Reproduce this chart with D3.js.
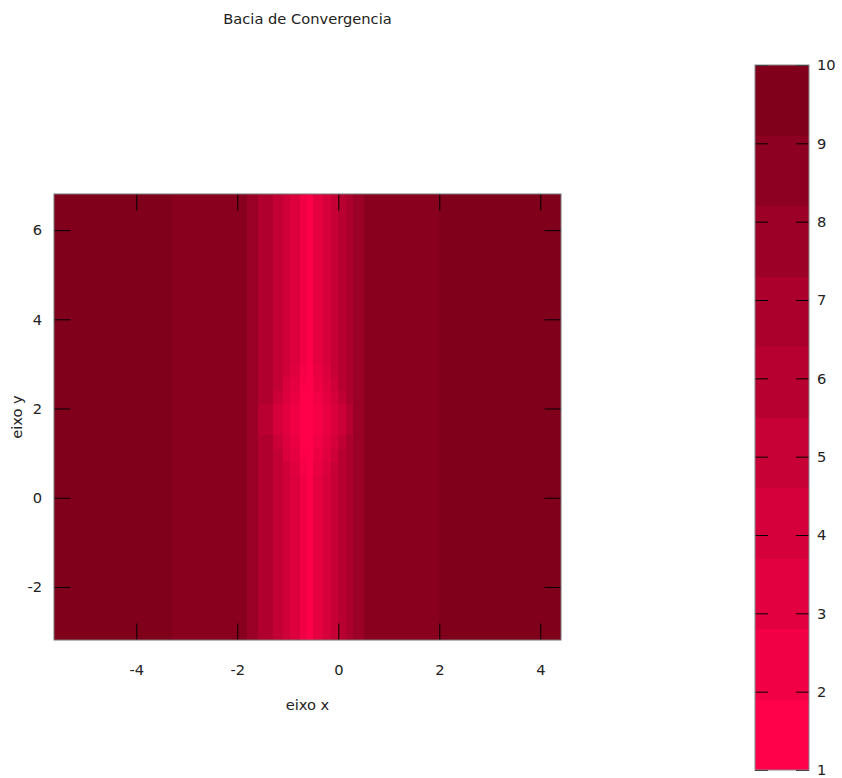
<!DOCTYPE html>
<html>
<head>
<meta charset="utf-8">
<script src="https://cdn.jsdelivr.net/npm/d3@7"></script>
<style>
  html, body { margin: 0; padding: 0; background: #fff; }
  svg { display: block; }
  text { font-family: "DejaVu Sans", sans-serif; fill: #222; }
</style>
</head>
<body>
<svg id="chart" width="842" height="778"></svg>
<script>
// ---- data ----
const title = "Bacia de Convergencia";
const xLabel = "eixo x";
const yLabel = "eixo y";
const xDomain = [-5.63, 4.41];
const yDomain = [-3.19, 6.81];
// column edges (x) and row edges (y) of the grid
const xEdges = [-5.63, -3.3, -1.8, -1.6, -1.3, -1.1, -0.95, -0.75, -0.62, -0.5, -0.3, -0.15, 0.0, 0.15, 0.3, 0.5, 2.0, 4.41];
const yEdges = [-3.19, 0.5, 0.8, 1.1, 1.4, 1.7, 2.1, 2.4, 2.7, 3.0, 6.81];
// values per row (bottom to top), one value per column
const row0 = [10, 9, 7.8, 6.5, 5.3, 4.5, 3.7, 2.3, 1.5, 3.2, 4.1, 5.1, 6.0, 6.8, 7.8, 9, 10];
const row1 = [10, 9, 7.8, 6.5, 5.3, 4.5, 3.4, 2.0, 1.3, 2.9, 3.8, 5.1, 6.0, 6.8, 7.8, 9, 10];
const row2 = [10, 9, 7.8, 6.5, 5.3, 3.9, 3.1, 1.7, 1.1, 2.6, 3.5, 4.5, 6.0, 6.8, 7.8, 9, 10];
const row3 = [10, 9, 7.8, 6.5, 4.8, 3.6, 2.8, 1.4, 1.0, 2.3, 3.2, 4.2, 5.5, 6.8, 7.8, 9, 10];
const row4 = [10, 9, 7.8, 5.9, 4.1, 3.3, 2.5, 1.1, 1.0, 2.0, 2.9, 3.9, 4.8, 6.2, 7.8, 9, 10];
const row5 = [10, 9, 7.8, 5.9, 4.1, 3.3, 2.5, 1.1, 1.0, 2.0, 2.9, 3.9, 4.8, 6.2, 7.8, 9, 10];
const row6 = [10, 9, 7.8, 6.5, 4.8, 3.6, 2.8, 1.4, 1.0, 2.3, 3.2, 4.2, 5.5, 6.8, 7.8, 9, 10];
const row7 = [10, 9, 7.8, 6.5, 5.3, 3.9, 3.1, 1.7, 1.1, 2.6, 3.5, 4.5, 6.0, 6.8, 7.8, 9, 10];
const row8 = [10, 9, 7.8, 6.5, 5.3, 4.5, 3.4, 2.0, 1.3, 2.9, 3.8, 5.1, 6.0, 6.8, 7.8, 9, 10];
const row9 = [10, 9, 7.8, 6.5, 5.3, 4.5, 3.7, 2.3, 1.5, 3.2, 4.1, 5.1, 6.0, 6.8, 7.8, 9, 10];
const zRows = [row0, row1, row2, row3, row4, row5, row6, row7, row8, row9];
const xTicks = [-4, -2, 0, 2, 4];
const yTicks = [-2, 0, 2, 4, 6];
const cbDomain = [1, 10];
const cbTicks = [1, 2, 3, 4, 5, 6, 7, 8, 9, 10];
const cbLevels = 10;

// ---- layout ----
const plot = { left: 54, right: 561, top: 194, bottom: 640 };
const cb = { left: 755, right: 809, top: 65, bottom: 770 };
const fontSize = 14.67;
const fmt = d => String(d); // plain hyphen-minus like the reference

const svg = d3.select("#chart");
const x = d3.scaleLinear().domain(xDomain).range([plot.left, plot.right]);
const y = d3.scaleLinear().domain(yDomain).range([plot.bottom, plot.top]);
const color = d3.scaleLinear()
  .domain([1.45, 9.55])
  .range(["#ff004a", "#80001c"])
  .interpolate(d3.interpolateRgb)
  .clamp(true);

// cells
const cells = [];
zRows.forEach((row, j) => {
  row.forEach((v, i) => {
    cells.push({ x0: xEdges[i], x1: xEdges[i + 1], y0: yEdges[j], y1: yEdges[j + 1], v });
  });
});
svg.append("g").selectAll("rect").data(cells).join("rect")
  .attr("x", d => x(d.x0))
  .attr("y", d => y(d.y1))
  .attr("width", d => x(d.x1) - x(d.x0))
  .attr("height", d => y(d.y0) - y(d.y1))
  .attr("fill", d => color(d.v))
  .attr("shape-rendering", "crispEdges");

// axes (inward ticks)
const tickLen = 16.5;
function styleAxis(g, showLabels) {
  g.select(".domain").remove();
  g.selectAll(".tick line").attr("stroke", "#000").attr("stroke-width", 1);
  g.selectAll(".tick text").style("font-family", "DejaVu Sans, sans-serif")
    .style("font-size", fontSize + "px").attr("fill", "#222");
  if (!showLabels) g.selectAll(".tick text").remove();
}
svg.append("g").attr("transform", `translate(0,${plot.bottom})`)
  .call(d3.axisBottom(x).tickValues(xTicks).tickSize(-tickLen).tickPadding(25).tickFormat(fmt))
  .call(g => styleAxis(g, true));
svg.append("g").attr("transform", `translate(0,${plot.top})`)
  .call(d3.axisTop(x).tickValues(xTicks).tickSize(-tickLen))
  .call(g => styleAxis(g, false));
svg.append("g").attr("transform", `translate(${plot.left},0)`)
  .call(d3.axisLeft(y).tickValues(yTicks).tickSize(-tickLen).tickPadding(12).tickFormat(fmt))
  .call(g => styleAxis(g, true));
svg.append("g").attr("transform", `translate(${plot.right},0)`)
  .call(d3.axisRight(y).tickValues(yTicks).tickSize(-tickLen))
  .call(g => styleAxis(g, false));

// plot border
svg.append("rect")
  .attr("x", plot.left).attr("y", plot.top)
  .attr("width", plot.right - plot.left).attr("height", plot.bottom - plot.top)
  .attr("fill", "none").attr("stroke", "#777").attr("stroke-width", 1);

// title and axis labels
svg.append("text").attr("x", (plot.left + plot.right) / 2).attr("y", 24)
  .attr("text-anchor", "middle").style("font-size", fontSize + "px").text(title);
svg.append("text").attr("x", (plot.left + plot.right) / 2).attr("y", 710)
  .attr("text-anchor", "middle").style("font-size", fontSize + "px").text(xLabel);
svg.append("text")
  .attr("transform", `translate(22,${(plot.top + plot.bottom) / 2}) rotate(-90)`)
  .attr("text-anchor", "middle").style("font-size", fontSize + "px").text(yLabel);

// colorbar
const cbY = d3.scaleLinear().domain(cbDomain).range([cb.bottom, cb.top]);
const step = (cbDomain[1] - cbDomain[0]) / cbLevels;
const bands = d3.range(cbLevels).map(k => ({ v0: cbDomain[0] + k * step, v1: cbDomain[0] + (k + 1) * step }));
svg.append("g").selectAll("rect").data(bands).join("rect")
  .attr("x", cb.left).attr("width", cb.right - cb.left)
  .attr("y", d => cbY(d.v1))
  .attr("height", d => cbY(d.v0) - cbY(d.v1))
  .attr("fill", d => color((d.v0 + d.v1) / 2))
  .attr("shape-rendering", "crispEdges");
const cbTickLen = 13;
svg.append("g").attr("transform", `translate(${cb.right},0)`)
  .call(d3.axisRight(cbY).tickValues(cbTicks).tickSize(-cbTickLen).tickPadding(8).tickFormat(fmt))
  .call(g => styleAxis(g, true));
svg.append("g").attr("transform", `translate(${cb.left},0)`)
  .call(d3.axisLeft(cbY).tickValues(cbTicks).tickSize(-cbTickLen))
  .call(g => styleAxis(g, false));
svg.append("rect")
  .attr("x", cb.left).attr("y", cb.top)
  .attr("width", cb.right - cb.left).attr("height", cb.bottom - cb.top)
  .attr("fill", "none").attr("stroke", "#888").attr("stroke-width", 1);
</script>
</body>
</html>
